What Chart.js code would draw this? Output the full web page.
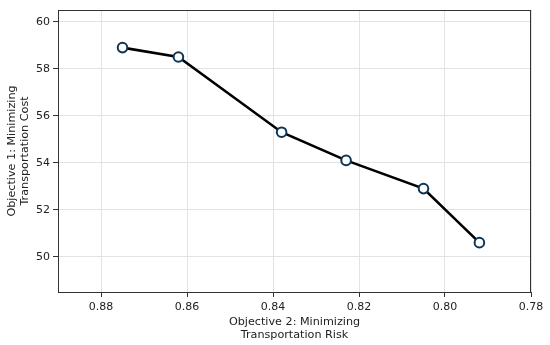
<!DOCTYPE html>
<html>
<head>
<meta charset="utf-8">
<script src="https://cdn.jsdelivr.net/npm/chart.js@4/dist/chart.umd.min.js"></script>
<style>
  html, body { margin: 0; padding: 0; background: #fff; }
</style>
</head>
<body>
<canvas id="paretoChart" width="550" height="345"></canvas>
<script>
"use strict";

// Data
const riskValues = [0.875, 0.862, 0.838, 0.823, 0.805, 0.792];
const costValues = [58.9, 58.5, 55.3, 54.1, 52.9, 50.6];
const xTicks = [0.88, 0.86, 0.84, 0.82, 0.80, 0.78];
const yTicks = [50, 52, 54, 56, 58, 60];
const xTitle = ['Objective 2: Minimizing', 'Transportation Risk'];
const yTitle = ['Objective 1: Minimizing', 'Transportation Cost'];

const points = riskValues.map((x, i) => ({ x: x, y: costValues[i] }));

// Ram runt hela diagramytan (som matplotlib)
const frame = {
  id: 'frame',
  afterDraw(chart) {
    const { ctx, chartArea: a } = chart;
    ctx.save();
    ctx.strokeStyle = '#333';
    ctx.lineWidth = 1;
    ctx.strokeRect(a.left + 0.5, a.top + 0.5, a.right - a.left - 1, a.bottom - a.top);
    ctx.restore();
  }
};

const fontFamily = "'DejaVu Sans', sans-serif";

const ctx = document.getElementById('paretoChart');

new Chart(ctx, {
  type: 'scatter',
  data: {
    datasets: [{
      data: points,
      showLine: true,
      borderColor: '#000',
      borderWidth: 2.6,
      pointRadius: 4.8,
      pointBorderWidth: 2,
      pointBackgroundColor: '#fff',
      pointBorderColor: '#0d3556',
      tension: 0
    }]
  },
  options: {
    responsive: false,
    animation: false,
    layout: { padding: { top: 10, right: 19, left: 0, bottom: 0 } },
    plugins: {
      legend: { display: false },
      tooltip: { enabled: false }
    },
    scales: {
      x: {
        type: 'linear',
        reverse: true,
        min: 0.78,
        max: 0.89,
        afterBuildTicks: axis => { axis.ticks = xTicks.map(v => ({ value: v })); },
        afterFit: s => { s.height = 53; },
        ticks: {
          color: '#222',
          padding: 3.5,
          font: { family: fontFamily, size: 11 },
          callback: v => v.toFixed(2)
        },
        grid: { color: '#e3e3e3', tickColor: '#333', tickLength: 5, lineWidth: 1 },
        border: { color: '#333', width: 1 },
        title: {
          display: true,
          text: xTitle,
          color: '#222',
          padding: { top: 0, bottom: 3.3 },
          font: { family: fontFamily, size: 11.2, lineHeight: 1.18 }
        }
      },
      y: {
        min: 48.5,
        max: 60.5,
        afterBuildTicks: axis => { axis.ticks = yTicks.map(v => ({ value: v })); },
        afterFit: s => { s.width = 58; },
        ticks: {
          color: '#222',
          padding: 3,
          font: { family: fontFamily, size: 11 }
        },
        grid: { color: '#e3e3e3', tickColor: '#333', tickLength: 5, lineWidth: 1 },
        border: { color: '#333', width: 1 },
        title: {
          display: true,
          text: yTitle,
          color: '#222',
          padding: { top: 5.3, bottom: 0 },
          font: { family: fontFamily, size: 11.2, lineHeight: 1.2 }
        }
      }
    }
  },
  plugins: [frame]
});
</script>
</body>
</html>
